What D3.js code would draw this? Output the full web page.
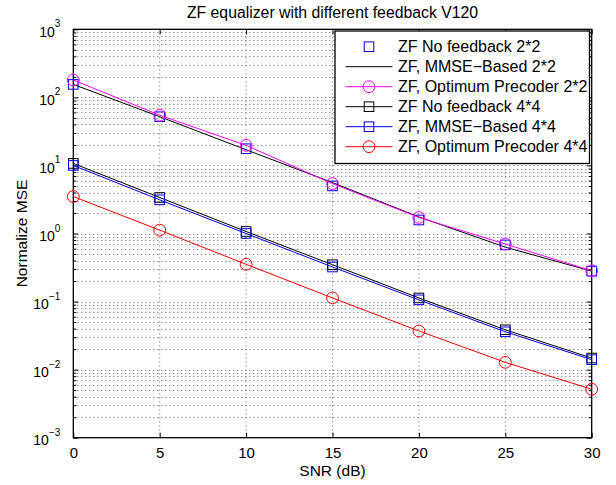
<!DOCTYPE html>
<html><head><meta charset="utf-8">
<script src="https://cdn.jsdelivr.net/npm/d3@7"></script>
<style>body{margin:0;background:#fff;} text{font-family:"Liberation Sans",Arial,sans-serif;fill:#000;}</style>
</head><body><svg id="c" width="616" height="485"></svg>
<script>
const snr = [0, 5, 10, 15, 20, 25, 30];
const zfNoFb22   = [155, 52, 17.6, 5.0, 1.58, 0.68, 0.28];
const zfMmse22   = [155, 52, 17.0, 5.6, 1.75, 0.63, 0.28];
const zfOpt22    = [180, 54.7, 19.7, 5.4, 1.72, 0.70, 0.284];
const zfNoFb44   = [10.7, 3.38, 1.07, 0.348, 0.113, 0.0385, 0.0148];
const zfMmse44   = [10.0, 3.12, 1.0, 0.322, 0.106, 0.036, 0.014];
const zfOpt44    = [3.49, 1.12, 0.353, 0.113, 0.037, 0.0128, 0.00515];
const xTicks = [0, 5, 10, 15, 20, 25, 30];
const yExps = [-3, -2, -1, 0, 1, 2, 3];
const seriesNames = ["ZF No feedback 2*2","ZF, MMSE\u2212Based 2*2","ZF, Optimum Precoder 2*2","ZF No feedback 4*4","ZF, MMSE\u2212Based 4*4","ZF, Optimum Precoder 4*4"];

const series = [
  {name: seriesNames[0], vals: zfNoFb22, color: "#0000ff", line: false, marker: "square"},
  {name: seriesNames[1], vals: zfMmse22, color: "#000000", line: true, marker: null},
  {name: seriesNames[2], vals: zfOpt22, color: "#ff00ff", line: true, marker: "circle"},
  {name: seriesNames[3], vals: zfNoFb44, color: "#000000", line: true, marker: "square"},
  {name: seriesNames[4], vals: zfMmse44, color: "#0000ff", line: true, marker: "square"},
  {name: seriesNames[5], vals: zfOpt44, color: "#ff0000", line: true, marker: "circle"}
];

const L = 73.3, R = 591.7, T = 29.3, B = 437.7;
const svg = d3.select("#c");
const x = d3.scaleLinear().domain([0, 30]).range([L, R]);
const y = d3.scaleLog().domain([1e-3, 1e3]).range([B, T]);

// grid
const grid = svg.append("g").attr("stroke", "#000").attr("stroke-width", 1).attr("stroke-dasharray", "1,3").attr("opacity", 0.6);
xTicks.slice(1, -1).forEach(v => grid.append("line").attr("x1", x(v)).attr("x2", x(v)).attr("y1", T).attr("y2", B));
const minorVals = [];
for (let e = -3; e < 3; e++) for (let m = 1; m <= 9; m++) { const v = m * Math.pow(10, e); if (!(m === 1 && e === -3)) minorVals.push(v); }
minorVals.forEach(v => grid.append("line").attr("x1", L).attr("x2", R).attr("y1", Math.round(y(v)) + 0.5).attr("y2", Math.round(y(v)) + 0.5));

// axes
const axB = d3.axisBottom(x).tickValues(xTicks).tickSize(-5).tickFormat(d => d);
const gB = svg.append("g").attr("transform", `translate(0,${B})`).call(axB);
const axT = d3.axisTop(x).tickValues(xTicks).tickSize(-5).tickFormat("");
svg.append("g").attr("transform", `translate(0,${T})`).call(axT);
const majorY = yExps.map(e => Math.pow(10, e));
const minorY = minorVals.filter(v => !majorY.some(m => Math.abs(m - v) / v < 1e-9));
svg.append("g").attr("transform", `translate(${L},0)`).call(d3.axisLeft(y).tickValues(majorY).tickSize(-5).tickFormat(""));
svg.append("g").attr("transform", `translate(${L},0)`).call(d3.axisLeft(y).tickValues(minorY).tickSize(-3).tickFormat(""));
svg.append("g").attr("transform", `translate(${R},0)`).call(d3.axisRight(y).tickValues(majorY).tickSize(-5).tickFormat(""));
svg.append("g").attr("transform", `translate(${R},0)`).call(d3.axisRight(y).tickValues(minorY).tickSize(-3).tickFormat(""));
svg.selectAll(".domain").remove();
svg.selectAll(".tick line").attr("stroke", "#000").attr("stroke-width", 1);
gB.selectAll(".tick text").attr("font-size", 15).attr("y", 20).attr("dy", 0).attr("fill", "#000").attr("font-family", "Liberation Sans, Arial, sans-serif");

// y labels
yExps.forEach(e => {
  const t = svg.append("text").attr("x", L - 13).attr("y", y(Math.pow(10, e)) + 7.4).attr("text-anchor", "end").attr("font-size", 14);
  t.append("tspan").text("10");
  t.append("tspan").attr("dy", -9.4).attr("font-size", 10).text(e < 0 ? "\u2212" + (-e) : e);
});

// frame
svg.append("rect").attr("x", L).attr("y", T).attr("width", R - L).attr("height", B - T).attr("fill", "none").attr("stroke", "#000").attr("stroke-width", 1.3);

// series
const line = d3.line().x((d, i) => x(snr[i])).y(d => y(d));
function marker(g, type, cx, cy, color) {
  if (type === "square") g.append("rect").attr("x", cx - 4.8).attr("y", cy - 4.8).attr("width", 9.6).attr("height", 9.6).attr("fill", "none").attr("stroke", color).attr("stroke-width", 1);
  else if (type === "circle") g.append("circle").attr("cx", cx).attr("cy", cy).attr("r", 5.9).attr("fill", "none").attr("stroke", color).attr("stroke-width", 1);
}
const plot = svg.append("g");
series.forEach(s => {
  if (s.line) plot.append("path").datum(s.vals).attr("d", line).attr("fill", "none").attr("stroke", s.color).attr("stroke-width", 1);
  if (s.marker) s.vals.forEach((v, i) => marker(plot, s.marker, x(snr[i]), y(v), s.color));
});

// legend
const lg = svg.append("g");
lg.append("rect").attr("x", 335).attr("y", 31).attr("width", 254.5).attr("height", 132.5).attr("fill", "#fff").attr("stroke", "#000").attr("stroke-width", 1.3);
series.forEach((s, i) => {
  const cy = 46.7 + i * 20;
  if (s.line) lg.append("line").attr("x1", 345.5).attr("x2", 392.5).attr("y1", cy).attr("y2", cy).attr("stroke", s.color).attr("stroke-width", 1);
  if (s.marker) marker(lg, s.marker, 369, cy, s.color);
  lg.append("text").attr("x", 398).attr("y", cy + 5.6).attr("font-size", 16).text(s.name);
});

// titles
svg.append("text").attr("x", 332.5).attr("y", 18.3).attr("text-anchor", "middle").attr("font-size", 15.8).text("ZF equalizer with different feedback V120");
svg.append("text").attr("x", 332.5).attr("y", 476).attr("text-anchor", "middle").attr("font-size", 15.5).text("SNR (dB)");
svg.append("text").attr("transform", `translate(27,${(T + B) / 2}) rotate(-90)`).attr("text-anchor", "middle").attr("font-size", 15.5).text("Normalize MSE");
</script></body></html>
